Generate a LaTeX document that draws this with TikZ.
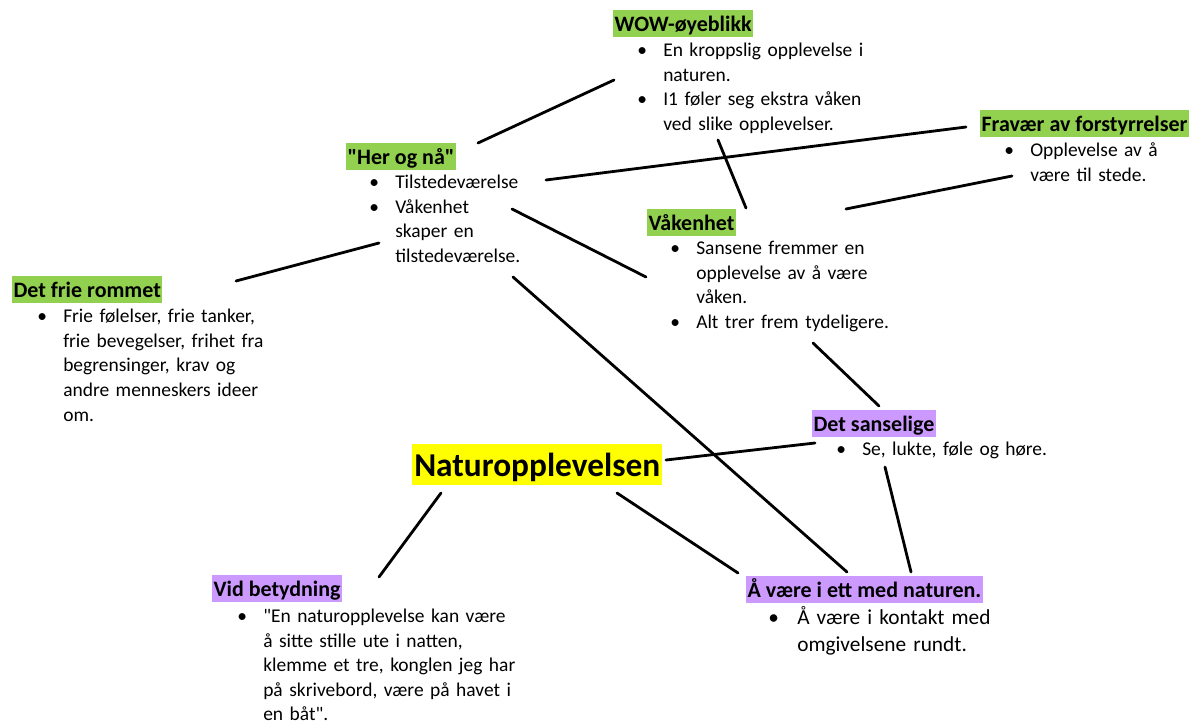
\documentclass[tikz,border=0pt]{standalone}
\usepackage{fontspec}
\setmainfont{Carlito}[Ligatures=TeXOff]
\usetikzlibrary{positioning}

\definecolor{hlgreen}{HTML}{92D050}
\definecolor{hlpurple}{HTML}{CC99FF}
\definecolor{hlyellow}{HTML}{FFFF00}

\newcommand{\bodyfont}{\fontsize{14.6pt}{18.5pt}\selectfont}
\newcommand{\bigbodyfont}{\fontsize{16pt}{20.2pt}\selectfont}
\newcommand{\headfont}{\fontsize{16.5pt}{20.2pt}\selectfont\bfseries}
\newcommand{\titlefont}{\fontsize{25pt}{30pt}\selectfont\bfseries}

% punkt med hengende innrykk
\newlength{\bulindent}
\setlength{\bulindent}{19.5pt}
\newlength{\firstline}
\setlength{\firstline}{14.4pt}
\newcommand{\fitem}{\hangindent=\bulindent\hangafter=1\noindent\makebox[\bulindent][l]{\textbullet}}
\newcommand{\bitem}{\par\fitem}
\newcommand{\topstrut}{\rule{0pt}{\firstline}}

\begin{document}
\begin{tikzpicture}[x=0.75pt, y=-0.75pt]
	\tikzset {head/.style={anchor=north west, inner xsep=1pt, inner ysep=0pt, font=\headfont, text height=15.7pt, text depth=4.4pt},
		greenhead/.style={head, fill=hlgreen},
		purplehead/.style={head, fill=hlpurple},
		blist/.style={anchor=north west, inner sep=0pt, font=\bodyfont, text width=#1},
		link/.style={line width=2.1pt, line cap=round} }

	\useasboundingbox (0,0) rectangle (1197,724);

	% topp
	\node[greenhead] (wowhead) at (613,10) {WOW-øyeblikk};
	\node[blist=240pt] (wowlist) at (637,37) {\fitem\topstrut En kroppslig opplevelse i\newline naturen.
		\bitem I1 føler seg ekstra våken\newline ved slike opplevelser.\par};

	\node[greenhead] (herhead) at (346,143) {"Her og nå"};
	\node[blist=160pt] (herlist) at (369,169) {\fitem\topstrut Tilstedeværelse
		\bitem Våkenhet\newline skaper en\newline tilstedeværelse.\par};

	\node[greenhead] (fravhead) at (980,110) {Fravær av forstyrrelser};
	\node[blist=140pt] (fravlist) at (1004,137) {\fitem\topstrut Opplevelse av å\newline være til stede.\par};

	\node[greenhead] (vakhead) at (647,209) {Våkenhet\ };
	\node[blist=220pt] (vaklist) at (670,235) {\fitem\topstrut Sansene fremmer en\newline opplevelse av å være\newline våken.
		\bitem Alt trer frem tydeligere.\par};

	\node[greenhead] (friehead) at (12,276) {Det frie rommet};
	\node[blist=220pt] (frielist) at (37,303) {\fitem\topstrut Frie følelser, frie tanker,\newline frie bevegelser, frihet fra\newline begrensinger, krav og\newline andre menneskers ideer\newline om.\par};

	% midten
	\node[purplehead] (sanshead) at (812,410) {Det sanselige};
	\node[blist=220pt] (sanslist) at (836,436) {\fitem\topstrut Se, lukte, føle og høre.\par};

	\node[anchor=north west, fill=hlyellow, inner xsep=1.5pt, inner ysep=0pt, font=\titlefont, text height=23.8pt, text depth=6.7pt] (natur) at (412,444) {Naturopplevelsen};

	% bunn
	\node[purplehead] (vidhead) at (212,575) {Vid betydning};
	\node[blist=240pt, font=\fontsize{14.6pt}{18.4pt}\selectfont] (vidlist) at (237,603) {\fitem\topstrut "En naturopplevelse kan være\newline å sitte stille ute i natten,\newline klemme et tre, konglen jeg har\newline på skrivebord, være på havet i\newline en båt".\par};

	\node[purplehead] (etthead) at (746,576) {Å være i ett med naturen.};
	\node[blist=220pt, font=\bigbodyfont] (ettlist) at (768,603) {\setlength{\bulindent}{21.75pt}\setlength{\firstline}{15.8pt}%
		\fitem\topstrut Å være i kontakt med\newline omgivelsene rundt.\par};

	% endepunkter for linjene
	\coordinate (her-wow) at (478,143);   \coordinate (wow-her) at (614,80);
	\coordinate (her-frav) at (546,180);  \coordinate (frav-her) at (966,127);
	\coordinate (vak-frav) at (846,209);  \coordinate (frav-vak) at (1012,176);
	\coordinate (wow-vak) at (718,140);   \coordinate (vak-wow) at (746,208);
	\coordinate (her-vak) at (512,209);   \coordinate (vak-her) at (646,277);
	\coordinate (frie-her) at (236,281);  \coordinate (her-frie) at (379,243);
	\coordinate (her-ett) at (513,277);   \coordinate (ett-her) at (847,572);
	\coordinate (vak-sans) at (813,343);  \coordinate (sans-vak) at (879,406);
	\coordinate (nat-sans) at (666,460);  \coordinate (sans-nat) at (815,443);
	\coordinate (sans-ett) at (885,467);  \coordinate (ett-sans) at (911,572);
	\coordinate (nat-ett) at (617,493);   \coordinate (ett-nat) at (738,573);
	\coordinate (nat-vid) at (441,493);   \coordinate (vid-nat) at (379,577);

	\draw[link] (her-wow) -- (wow-her);
	\draw[link] (her-frav) -- (frav-her);
	\draw[link] (vak-frav) -- (frav-vak);
	\draw[link] (wow-vak) -- (vak-wow);
	\draw[link] (her-vak) -- (vak-her);
	\draw[link] (frie-her) -- (her-frie);
	\draw[link] (her-ett) -- (ett-her);
	\draw[link] (vak-sans) -- (sans-vak);
	\draw[link] (nat-sans) -- (sans-nat);
	\draw[link] (sans-ett) -- (ett-sans);
	\draw[link] (nat-ett) -- (ett-nat);
	\draw[link] (nat-vid) -- (vid-nat);
\end{tikzpicture}
\end{document}
